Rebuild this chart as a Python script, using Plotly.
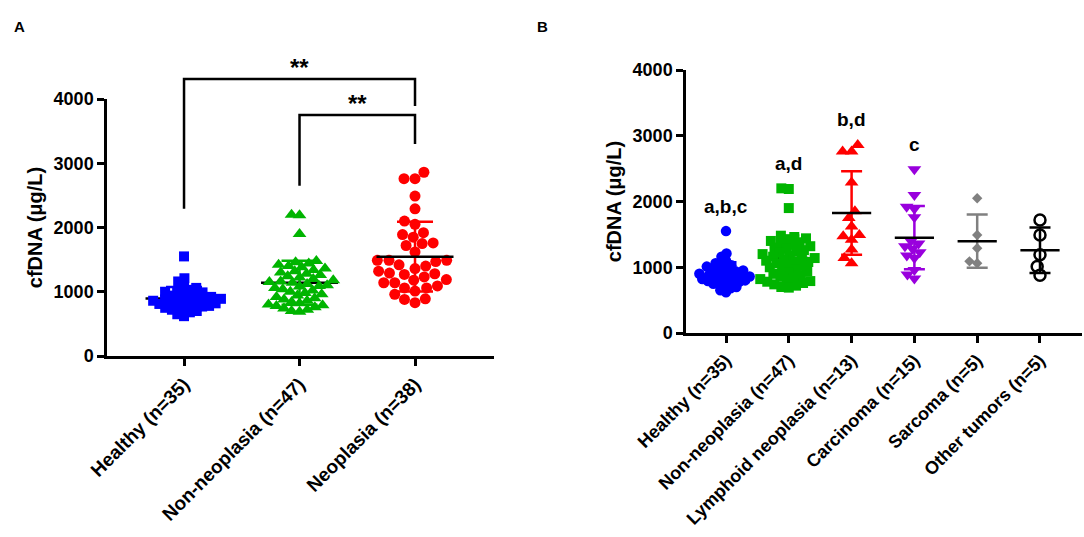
import numpy as np
import plotly.graph_objects as go

W, H = 1084, 537
FONT = "Liberation Sans"
YMAX = 4000

# cfDNA (ug/L) per animal
healthy = [1550, 1210, 1160, 1100, 1060, 1030, 1010, 1000, 990, 970, 950, 940,
           920, 910, 900, 890, 880, 870, 860, 850, 840, 830, 820, 810, 800, 790,
           780, 770, 750, 740, 720, 700, 680, 650, 620]
non_neoplasia = [2200, 2190, 1900, 1480, 1460, 1440, 1420, 1400, 1380, 1360,
                 1340, 1320, 1300, 1280, 1260, 1240, 1220, 1200, 1180, 1160,
                 1150, 1140, 1120, 1100, 1090, 1080, 1060, 1040, 1020, 1000,
                 980, 960, 940, 920, 900, 880, 860, 840, 820, 800, 790, 780,
                 760, 740, 720, 700, 690]
lymphoid = [2860, 2760, 2760, 2290, 1850, 1750, 1620, 1490, 1470, 1420, 1270,
            1140, 1060]
carcinoma = [2490, 2100, 1920, 1890, 1760, 1400, 1360, 1320, 1280, 1230, 1180,
             1140, 960, 890, 830]
sarcoma = [2050, 1490, 1290, 1090, 1060]
other_tumors = [1720, 1490, 1190, 1010, 880]
neoplasia = lymphoid + carcinoma + sarcoma + other_tumors

labels_a = ["Healthy (n=35)", "Non-neoplasia (n=47)", "Neoplasia (n=38)"]
labels_b = ["Healthy (n=35)", "Non-neoplasia (n=47)", "Lymphoid neoplasia (n=13)",
            "Carcinoma (n=15)", "Sarcoma (n=5)", "Other tumors (n=5)"]
letters_b = ["a,b,c", "a,d", "b,d", "c", "", ""]

BLUE, GREEN, RED = "#0000ff", "#00b400", "#ff0000"
PURPLE, GREY, BLACK = "#9900dd", "#808080", "#000000"

# layout (pixels -> paper)
dom_ax = [107 / W, 494 / W]
dom_ay = [(H - 356) / H, (H - 99) / H]
dom_bx = [686 / W, 1082 / W]
dom_by = [(H - 333) / H, (H - 70) / H]
range_ax = [-0.667, 2.684]
range_bx = [-0.637, 5.669]


def px_scale(dom, rng, size):
    return (dom[1] - dom[0]) * size / (rng[1] - rng[0])


def swarm(vals, px_x, px_y, d):
    # simple beeswarm: offsets so that markers (diameter d px) don't overlap
    ys = np.asarray(vals, float) * px_y
    xs = np.zeros(len(ys))
    placed = []
    for i in np.argsort(ys):
        y = ys[i]
        cands = [0.0]
        for px, py in placed:
            dy = abs(py - y)
            if dy < d:
                dx = np.sqrt(d * d - dy * dy)
                cands += [px - dx, px + dx]
        cands.sort(key=lambda c: (abs(c), c))
        for c in cands:
            if all((c - px) ** 2 + (y - py) ** 2 >= d * d - 1e-6 for px, py in placed):
                xs[i] = c
                break
        placed.append((xs[i], y))
    return xs / px_x


def ypaper(v, dom):
    return dom[0] + v / YMAX * (dom[1] - dom[0])


fig = go.Figure()

pxa = px_scale(dom_ax, range_ax, W)
pya = (dom_ay[1] - dom_ay[0]) * H / YMAX
pxb = px_scale(dom_bx, range_bx, W)
pyb = (dom_by[1] - dom_by[0]) * H / YMAX


def add_group(i, vals, color, symbol, size, xa, ya, pxx, pyy, d, mean_size, cap,
              bars_below, open_marker=False):
    m = np.mean(vals)
    s = np.std(vals, ddof=1)
    bars = go.Scatter(
        x=[i], y=[m], mode="markers", xaxis=xa, yaxis=ya,
        marker=dict(symbol="line-ew", size=mean_size,
                    line=dict(color="black", width=2.5)),
        error_y=dict(type="data", array=[s], width=cap, thickness=2.5, color=color),
        showlegend=False, hoverinfo="skip")
    if open_marker:
        mk = dict(symbol=symbol, size=size, color="white",
                  line=dict(color=color, width=2.5))
    else:
        mk = dict(symbol=symbol, size=size, color=color, line=dict(width=0))
    pts = go.Scatter(
        x=i + swarm(vals, pxx, pyy, d), y=vals, mode="markers",
        xaxis=xa, yaxis=ya, marker=mk, showlegend=False, cliponaxis=False)
    if bars_below:
        fig.add_trace(bars)
        fig.add_trace(pts)
    else:
        fig.add_trace(pts)
        fig.add_trace(bars)


# panel A
add_group(0, healthy, BLUE, "square", 10, "x", "y", pxa, pya, 7, 55, 18, True)
add_group(1, non_neoplasia, GREEN, "triangle-up", 12, "x", "y", pxa, pya, 8, 55, 18, True)
add_group(2, neoplasia, RED, "circle", 11, "x", "y", pxa, pya, 11, 55, 18, False)

# panel B
groups_b = [(healthy, BLUE, "circle", 10.5, 6, True),
            (non_neoplasia, GREEN, "square", 10, 7.5, True),
            (lymphoid, RED, "triangle-up", 12, 9, False),
            (carcinoma, PURPLE, "triangle-down", 12, 8, False),
            (sarcoma, GREY, "diamond", 8, 8, False),
            (other_tumors, BLACK, "circle", 11, 9, False)]
for i, (vals, col, sym, sz, d, below) in enumerate(groups_b):
    add_group(i, vals, col, sym, sz, "x2", "y2", pxb, pyb, d, 28, 10.5, below,
              open_marker=(i == 5))

# significance brackets (panel A)
line = dict(color="black", width=2.5)
brackets = [(0, 2, 2290, 4310, 3890), (1, 2, 2650, 3750, 3300)]
shapes = []
for x0, x1, yl, yt, yr in brackets:
    shapes.append(dict(
        type="path", xref="x", yref="paper", line=line,
        path="M {},{} L {},{} L {},{} L {},{}".format(
            x0, ypaper(yl, dom_ay), x0, ypaper(yt, dom_ay),
            x1, ypaper(yt, dom_ay), x1, ypaper(yr, dom_ay))))

annotations = []
for x0, x1, yl, yt, yr in brackets:
    annotations.append(dict(
        x=(x0 + x1) / 2, y=ypaper(yt, dom_ay), xref="x", yref="paper",
        text="**", showarrow=False, yanchor="bottom", yshift=-4,
        font=dict(family=FONT, size=24, color="black", weight="bold")))

for i, txt in enumerate(letters_b):
    if txt:
        annotations.append(dict(
            x=i, y=max(groups_b[i][0]) + 380, xref="x2", yref="y2", text=txt,
            showarrow=False, font=dict(family=FONT, size=19, color="black",
                                       weight="bold")))

for txt, xp in (("A", 19.5), ("B", 542)):
    annotations.append(dict(
        x=xp / W, y=1 - 26.5 / H, xref="paper", yref="paper", text=txt,
        xanchor="center", yanchor="middle", showarrow=False,
        font=dict(family=FONT, size=15, color="black", weight="bold")))

tickfont = dict(family=FONT, size=18, color="black", weight="bold")
common = dict(showline=True, linecolor="black", linewidth=2.5, ticks="outside",
              ticklen=7, tickwidth=2.5, tickcolor="black", showgrid=False,
              zeroline=False, tickfont=tickfont, automargin=False)
xcommon_a = dict(common, tickfont=dict(tickfont, size=19))
yticks = list(range(0, YMAX + 1, 1000))
ytitle = dict(text="cfDNA (μg/L)", standoff=6,
              font=dict(family=FONT, size=20, color="black", weight="bold"))

fig.update_layout(
    width=W, height=H, margin=dict(l=0, r=0, t=0, b=0),
    paper_bgcolor="white", plot_bgcolor="white",
    font=dict(family=FONT, color="black"),
    xaxis=dict(domain=dom_ax, range=range_ax, tickvals=list(range(3)),
               ticktext=labels_a, tickangle=-45, anchor="y", **xcommon_a),
    yaxis=dict(domain=dom_ay, range=[0, YMAX], tickvals=yticks, anchor="x",
               title=ytitle, **common),
    xaxis2=dict(domain=dom_bx, range=range_bx, tickvals=list(range(6)),
                ticktext=labels_b, tickangle=-45, anchor="y2", **common),
    yaxis2=dict(domain=dom_by, range=[0, YMAX], tickvals=yticks, anchor="x2",
                title=ytitle, **common),
    shapes=shapes, annotations=annotations,
)

# page body has a default 8px margin; drop it so the figure sits at 0,0
fig.write_html("out.html", config={"displayModeBar": False},
               post_script="document.body.style.margin = '0';")
